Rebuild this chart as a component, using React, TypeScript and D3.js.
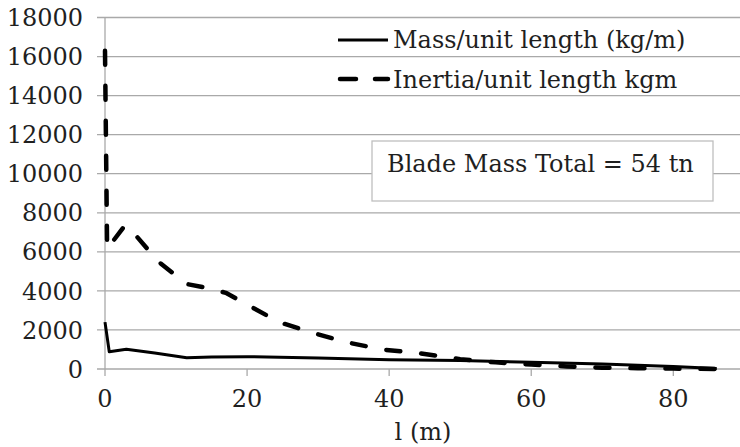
import React from "react";
import * as d3 from "d3";

const massX = [0, 0.6, 3, 7, 11.5, 15, 20, 30, 40, 50, 60, 70, 80, 86.1];
const massY = [2400, 880, 1010, 820, 580, 620, 630, 560, 480, 430, 350, 250, 130, 20];

const inertiaX = [0, 0.3, 2.8, 4.2, 7.5, 11.5, 14.5, 17, 21, 24.5, 29, 34, 39, 44, 50, 55, 60, 65, 70, 75, 80, 86];
const inertiaY = [16300, 6150, 7350, 6900, 5500, 4350, 4150, 3900, 3100, 2400, 1880, 1370, 1000, 820, 500, 340, 230, 130, 70, 40, 20, 0];

const yTicks = [0, 2000, 4000, 6000, 8000, 10000, 12000, 14000, 16000, 18000];
const xTicks = [0, 20, 40, 60, 80];

const legendLabels = ["Mass/unit length (kg/m)", "Inertia/unit length kgm"];
const annotation = "Blade Mass Total = 54 tn";
const xTitle = "l (m)";

const W = 740;
const H = 447;
const FONT = "'DejaVu Serif', 'Liberation Serif', serif";
const FS = 24;

export default function App() {
  const x = d3.scaleLinear().domain([0, 100]).range([105, 815.4]);
  const y = d3.scaleLinear().domain([0, 18000]).range([369, 17.5]);
  const line = d3
    .line<[number, number]>()
    .x((d) => x(d[0]))
    .y((d) => y(d[1]));
  const massPts = massX.map((v, i) => [v, massY[i]] as [number, number]);
  const inPts = inertiaX.map((v, i) => [v, inertiaY[i]] as [number, number]);
  const grid = "#a9a9a9";
  const txt = "#1f1f1f";
  return (
    <div style={{ position: "fixed", left: 0, top: 0 }}>
      <svg width={W} height={H} style={{ display: "block", background: "#fff" }}>
        {yTicks.map((t) => (
          <g key={"y" + t}>
            <line x1={97} x2={W} y1={y(t)} y2={y(t)} stroke={grid} strokeWidth={1.3} />
            <text x={83} y={y(t)} dy="0.36em" textAnchor="end" fontFamily={FONT} fontSize={FS} fill={txt}>
              {t}
            </text>
          </g>
        ))}
        <line x1={x(0)} x2={x(0)} y1={y(18000)} y2={y(0)} stroke={grid} strokeWidth={1.3} />
        {xTicks.map((t) => (
          <g key={"x" + t}>
            <line x1={x(t)} x2={x(t)} y1={y(0)} y2={y(0) + 7} stroke={grid} strokeWidth={1.3} />
            <text x={x(t)} y={407} textAnchor="middle" fontFamily={FONT} fontSize={FS} fill={txt}>
              {t}
            </text>
          </g>
        ))}
        <text x={423} y={440} textAnchor="middle" fontFamily={FONT} fontSize={FS} fill={txt}>
          {xTitle}
        </text>
        <path d={line(massPts) || ""} fill="none" stroke="#000" strokeWidth={3} strokeLinejoin="round" />
        <path
          d={line(inPts) || ""}
          fill="none"
          stroke="#000"
          strokeWidth={4.5}
          strokeDasharray="14 21"
          strokeLinecap="round"
          strokeLinejoin="round"
        />
        {/* legend */}
        <line x1={338} x2={388} y1={40} y2={40} stroke="#000" strokeWidth={3} />
        <text x={393} y={48} fontFamily={FONT} fontSize={FS} fill={txt}>
          {legendLabels[0]}
        </text>
        <line x1={340} x2={388} y1={79} y2={79} stroke="#000" strokeWidth={4.5} strokeDasharray="16 19" strokeLinecap="round" />
        <text x={393} y={88} fontFamily={FONT} fontSize={FS} fill={txt}>
          {legendLabels[1]}
        </text>
        {/* annotation box */}
        <rect x={372} y={141} width={341} height={60} fill="#fff" stroke="#bfbfbf" strokeWidth={1.3} />
        <text x={387} y={172} fontFamily={FONT} fontSize={FS} fill={txt}>
          {annotation}
        </text>
      </svg>
    </div>
  );
}
